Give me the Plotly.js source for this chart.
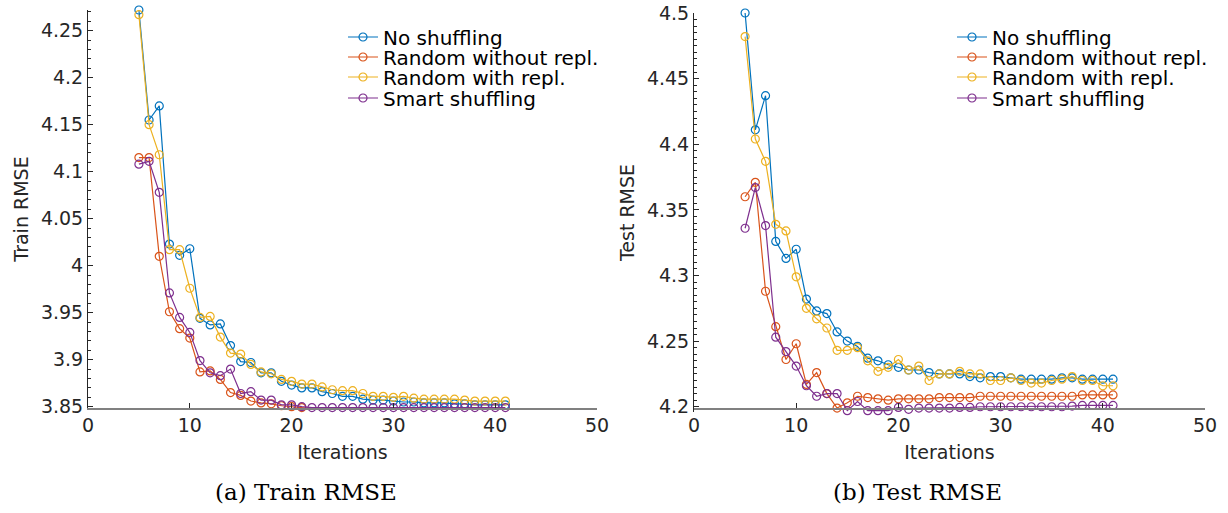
<!DOCTYPE html>
<html>
<head>
<meta charset="utf-8">
<script src="https://cdn.plot.ly/plotly-3.0.1.min.js"></script>
<style>html,body{margin:0;padding:0;background:#fff;}#chart{width:1228px;height:513px;}</style>
</head>
<body>
<div id="chart"></div>
<script>
// ---- data ----
const iterations = [5,6,7,8,9,10,11,12,13,14,15,16,17,18,19,20,21,22,23,24,25,26,27,28,29,30,31,32,33,34,35,36,37,38,39,40,41];

const seriesNames = ["No shuffling", "Random without repl.", "Random with repl.", "Smart shuffling"];

const trainNoShuffle = [4.272,4.155,4.170,4.023,4.011,4.018,3.944,3.937,3.938,3.915,3.898,3.897,3.886,3.886,3.877,3.873,3.870,3.870,3.866,3.864,3.861,3.861,3.858,3.857,3.857,3.856,3.855,3.855,3.854,3.854,3.854,3.853,3.853,3.852,3.852,3.852,3.852];
const trainRandNoRepl = [4.115,4.115,4.010,3.951,3.933,3.923,3.887,3.888,3.879,3.865,3.862,3.856,3.854,3.853,3.851,3.850,3.849,3.848,3.848,3.848,3.848,3.848,3.848,3.848,3.848,3.848,3.848,3.848,3.848,3.848,3.848,3.848,3.848,3.848,3.848,3.848,3.848];
const trainRandRepl = [4.267,4.150,4.118,4.017,4.017,3.976,3.945,3.946,3.924,3.907,3.906,3.895,3.887,3.885,3.879,3.877,3.874,3.874,3.871,3.868,3.867,3.867,3.864,3.861,3.861,3.860,3.861,3.859,3.858,3.858,3.858,3.858,3.857,3.856,3.856,3.856,3.856];
const trainSmart = [4.108,4.111,4.078,3.971,3.945,3.929,3.899,3.886,3.883,3.890,3.864,3.866,3.857,3.857,3.852,3.852,3.850,3.849,3.849,3.849,3.849,3.849,3.849,3.849,3.849,3.849,3.849,3.849,3.849,3.849,3.849,3.849,3.849,3.849,3.849,3.849,3.849];

const testNoShuffle = [4.500,4.411,4.437,4.326,4.313,4.320,4.282,4.273,4.271,4.257,4.250,4.246,4.237,4.235,4.232,4.230,4.228,4.228,4.226,4.225,4.225,4.225,4.223,4.222,4.223,4.223,4.222,4.221,4.221,4.221,4.221,4.222,4.222,4.221,4.221,4.221,4.221];
const testRandNoRepl = [4.360,4.371,4.288,4.261,4.236,4.248,4.217,4.226,4.210,4.199,4.203,4.208,4.207,4.206,4.205,4.206,4.206,4.206,4.206,4.207,4.207,4.207,4.207,4.208,4.208,4.208,4.208,4.208,4.208,4.208,4.208,4.208,4.208,4.209,4.209,4.209,4.209];
const testRandRepl = [4.482,4.404,4.387,4.339,4.334,4.299,4.275,4.267,4.260,4.243,4.243,4.245,4.235,4.227,4.230,4.236,4.228,4.231,4.220,4.225,4.225,4.227,4.225,4.225,4.220,4.220,4.222,4.220,4.218,4.218,4.220,4.221,4.223,4.220,4.220,4.216,4.216];
const testSmart = [4.336,4.367,4.338,4.253,4.242,4.231,4.216,4.208,4.210,4.210,4.197,4.204,4.197,4.197,4.197,4.1995,4.198,4.199,4.199,4.199,4.199,4.1995,4.1995,4.200,4.200,4.200,4.200,4.200,4.200,4.200,4.200,4.200,4.2005,4.201,4.201,4.201,4.201];

const xTickVals = [0,10,20,30,40,50];
const trainTickVals = [3.85,3.9,3.95,4,4.05,4.1,4.15,4.2,4.25];
const trainTickText = ["3.85","3.9","3.95","4","4.05","4.1","4.15","4.2","4.25"];
const testTickVals = [4.2,4.25,4.3,4.35,4.4,4.45,4.5];
const testTickText = ["4.2","4.25","4.3","4.35","4.4","4.45","4.5"];

const xTitle = "Iterations";
const trainTitle = "Train RMSE";
const testTitle = "Test RMSE";
const captionA = "(a) Train RMSE";
const captionB = "(b) Test RMSE";

// ---- styling ----
const colors = ["#0072BD", "#D95319", "#EDB120", "#7E2F8E"];
const FONT = "DejaVu Sans, Liberation Sans, Arial, sans-serif";
const TXT = "#262626";
const W = 1228, H = 513;
const legendRowsPx = [37, 57, 77, 98];

function mk(y, i, xa, ya, lg) {
  return {
    x: iterations, y: y, type: "scatter", mode: "lines+markers",
    name: seriesNames[i], xaxis: xa, yaxis: ya, legend: lg,
    line: {color: colors[i], width: 1.2},
    marker: {symbol: "circle-open", size: 8, color: colors[i], line: {width: 1.2, color: colors[i]}},
    cliponaxis: false
  };
}

const trainSeries = [trainNoShuffle, trainRandNoRepl, trainRandRepl, trainSmart];
const testSeries = [testNoShuffle, testRandNoRepl, testRandRepl, testSmart];
const traces = [];
const legendName = k => (k === 1 ? "legend" : "legend" + k);
trainSeries.forEach((s, i) => traces.push(mk(s, i, "x", "y", legendName(i + 1))));
testSeries.forEach((s, i) => traces.push(mk(s, i, "x2", "y2", legendName(i + 5))));

function xax(dom, anchor, pos) {
  const a = {
    domain: dom, anchor: anchor, range: [0, 50], tickmode: "array", tickvals: xTickVals,
    ticks: "inside", ticklen: 5, tickcolor: TXT, tickwidth: 1,
    showline: true, linecolor: "#808080", linewidth: 1.5, zeroline: false, showgrid: false,
    tickfont: {family: FONT, size: 19, color: TXT},
    title: {text: xTitle, font: {family: FONT, size: 19, color: TXT}, standoff: 10}
  };
  if (pos !== undefined) { a.anchor = "free"; a.position = pos; }
  return a;
}
function yax(dom, anchor, range, tv, tt, minorStep, title) {
  return {
    domain: dom, anchor: anchor, range: range, tickmode: "array", tickvals: tv, ticktext: tt,
    ticks: "inside", ticklen: 5, tickcolor: TXT, tickwidth: 1,
    minor: {tickmode: "linear", tick0: tv[0], dtick: minorStep, ticks: "inside", ticklen: 3, tickcolor: TXT, showgrid: false},
    showline: true, linecolor: TXT, linewidth: 1, zeroline: false, showgrid: false,
    tickfont: {family: FONT, size: 19, color: TXT},
    title: {text: title, font: {family: FONT, size: 19, color: TXT}, standoff: 7}
  };
}

const layout = {
  width: W, height: H,
  margin: {l: 0, r: 0, t: 0, b: 0},
  paper_bgcolor: "#ffffff", plot_bgcolor: "#ffffff",
  showlegend: true,
  xaxis: xax([88/W, 597/W], "y"),
  yaxis: yax([1 - 408/H, 1 - 10/H], "x", [3.8486, 4.272], trainTickVals, trainTickText, 0.01, trainTitle),
  xaxis2: xax([694/W, 1205/W], "y2", 1 - 408/H),
  yaxis2: yax([1 - 412/H, 1 - 13/H], "x2", [4.196, 4.5], testTickVals, testTickText, 0.005, testTitle),
  annotations: [
    {text: captionA, xref: "paper", yref: "paper", x: 306/W, y: 1 - 492/H, xanchor: "center", yanchor: "middle",
     showarrow: false, font: {family: "DejaVu Serif, Liberation Serif, serif", size: 23, color: "#000"}},
    {text: captionB, xref: "paper", yref: "paper", x: 917/W, y: 1 - 492/H, xanchor: "center", yanchor: "middle",
     showarrow: false, font: {family: "DejaVu Serif, Liberation Serif, serif", size: 23, color: "#000"}}
  ]
};
for (let k = 1; k <= 8; k++) {
  const row = (k - 1) % 4;
  const xl = k <= 4 ? 343 : 952;
  layout[legendName(k)] = {
    x: xl / W, y: 1 - legendRowsPx[row] / H, xanchor: "left", yanchor: "middle",
    bgcolor: "rgba(0,0,0,0)", borderwidth: 0, itemwidth: 30,
    font: {family: FONT, size: 20, color: "#000"}
  };
}

Plotly.newPlot("chart", traces, layout, {displayModeBar: false, staticPlot: true});
</script>
</body>
</html>
